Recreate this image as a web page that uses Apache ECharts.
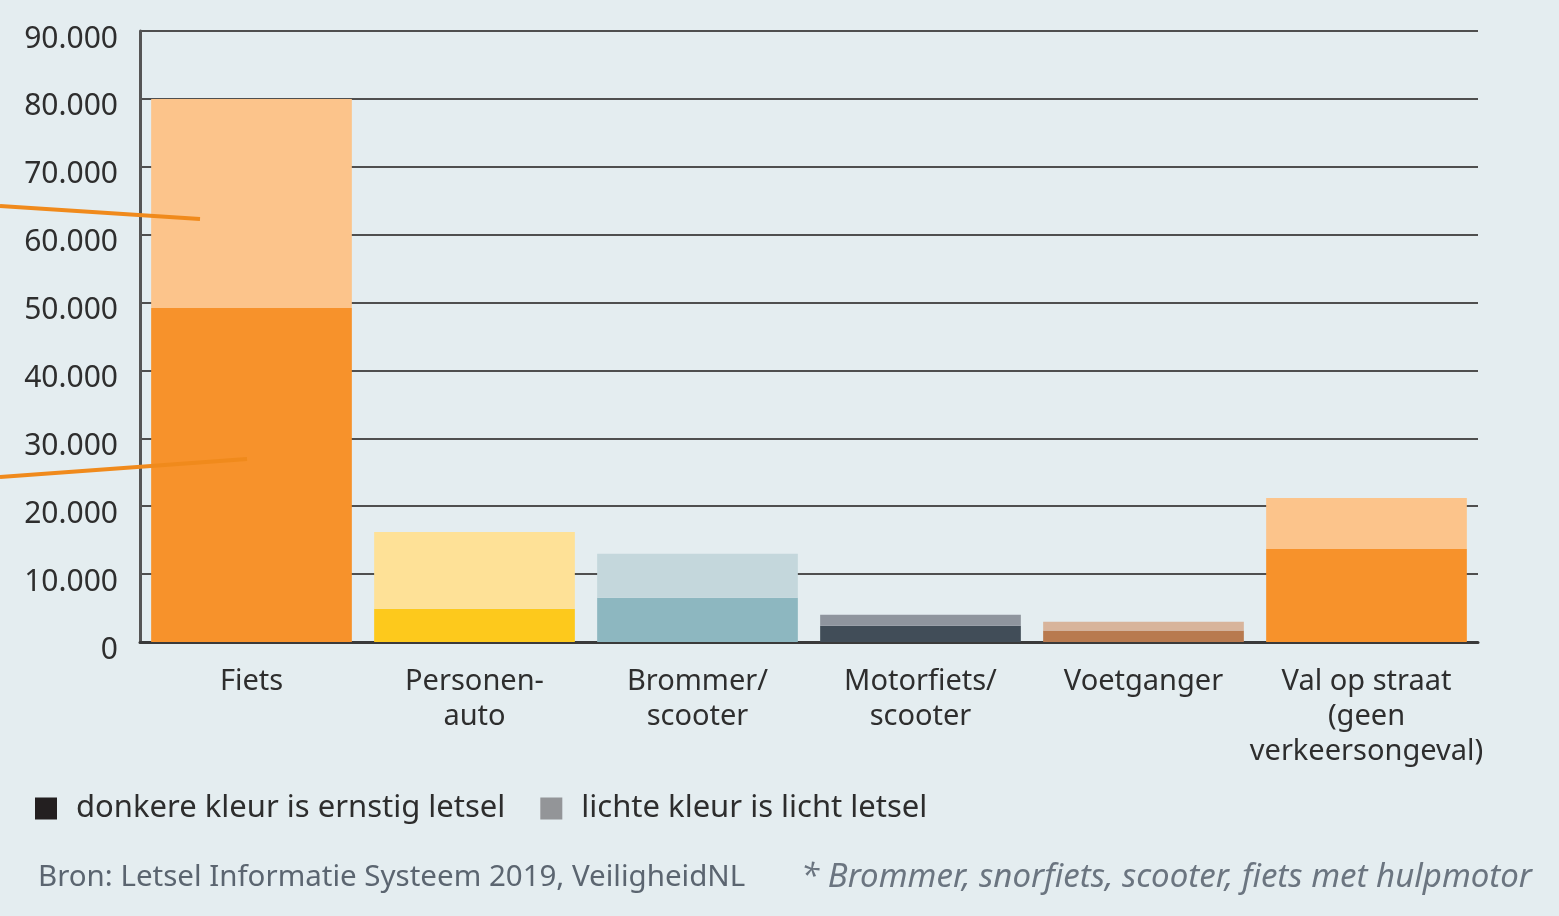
<!DOCTYPE html>
<html>
<head>
    <meta charset="UTF-8">
    <title>Letsel per vervoerswijze</title>
    <style>
        *{
            margin: 0;
            padding: 0;
        }
        body{
            background: #e4edf0;
        }
        .container{
            width: 1559px;
            height: 916px;
        }
    </style>
    <script src="https://cdn.jsdelivr.net/npm/echarts@6/dist/echarts.min.js"></script>
</head>
<body>
<div class="container"></div>
<script>
    // categorieen en waarden
    let categories = ['Fiets', 'Personen-\nauto', 'Brommer/\nscooter', 'Motorfiets/\nscooter', 'Voetganger', 'Val op straat\n(geen\nverkeersongeval)']
    let ernstig = [49200, 4900, 6500, 2400, 1700, 13700]
    let licht = [30800, 11300, 6500, 1600, 1300, 7500]
    let yTicks = [0, 10000, 20000, 30000, 40000, 50000, 60000, 70000, 80000, 90000]

    // kleuren per categorie: donker = ernstig, licht = licht letsel
    let darkColors = ['#f7922b', '#fdc91c', '#8db7c0', '#414d58', '#b87a4f', '#f7922b']
    let lightColors = ['#fcc48b', '#fee197', '#c4d7dc', '#8f959e', '#d8b49b', '#fcc48b']

    let container = document.querySelector('.container')
    let mychart = echarts.init(container)

    let font = 'Noto Sans'

    let option = {
        backgroundColor: '#e4edf0',
        animation: false,
        grid: {
            left: 140,
            right: 81,
            top: 31,
            bottom: 274
        },
        title: [{
            text: 'Bron: Letsel Informatie Systeem 2019, VeiligheidNL',
            left: 33,
            top: 858,
            textStyle: {fontFamily: font, fontSize: 29.5, fontWeight: 'normal', color: '#5b6570'}
        }, {
            text: '* Brommer, snorfiets, scooter, fiets met hulpmotor',
            right: 22,
            top: 856,
            textStyle: {fontFamily: font, fontSize: 33, fontWeight: 'normal', fontStyle: 'italic', color: '#6b7580'}
        }],
        legend: {
            left: 30,
            top: 788,
            itemWidth: 22,
            itemHeight: 22,
            itemGap: 35,
            icon: 'rect',
            textStyle: {fontFamily: font, fontSize: 31, color: '#2d2d2d', padding: [0, 0, 0, 14]},
            data: ['donkere kleur is ernstig letsel', 'lichte kleur is licht letsel']
        },
        xAxis: {
            type: 'category',
            data: categories,
            axisLine: {lineStyle: {color: '#3a3a3a', width: 3}},
            axisTick: {show: false},
            axisLabel: {
                fontFamily: font,
                fontSize: 29,
                color: '#2e2e2e',
                lineHeight: 35,
                margin: 22,
                interval: 0
            }
        },
        yAxis: {
            type: 'value',
            min: yTicks[0],
            max: yTicks[yTicks.length - 1],
            interval: 10000,
            axisLine: {show: true, lineStyle: {color: '#555', width: 3}},
            axisTick: {show: false},
            splitLine: {lineStyle: {color: '#4f4f4f', width: 2}},
            axisLabel: {
                fontFamily: font,
                fontSize: 30,
                color: '#2e2e2e',
                margin: 22,
                verticalAlign: 'top',
                lineHeight: 16,
                formatter: v => v.toLocaleString('nl-NL')
            }
        },
        series: [{
            name: 'donkere kleur is ernstig letsel',
            type: 'bar',
            stack: 'letsel',
            barWidth: '90%',
            itemStyle: {color: '#231f20'},
            data: ernstig.map((v, i) => ({value: v, itemStyle: {color: darkColors[i]}}))
        }, {
            name: 'lichte kleur is licht letsel',
            type: 'bar',
            stack: 'letsel',
            barWidth: '90%',
            itemStyle: {color: '#939598'},
            data: licht.map((v, i) => ({value: v, itemStyle: {color: lightColors[i]}}))
        }],
        // oranje verwijslijnen aan de linkerrand
        graphic: [{
            type: 'line',
            z: 100,
            shape: {x1: 0, y1: 206, x2: 200, y2: 219},
            style: {stroke: '#f08a1c', lineWidth: 4}
        }, {
            type: 'line',
            z: 100,
            shape: {x1: 0, y1: 477, x2: 247, y2: 459},
            style: {stroke: '#f08a1c', lineWidth: 4}
        }]
    }
    mychart.setOption(option)
</script>
</body>
</html>
